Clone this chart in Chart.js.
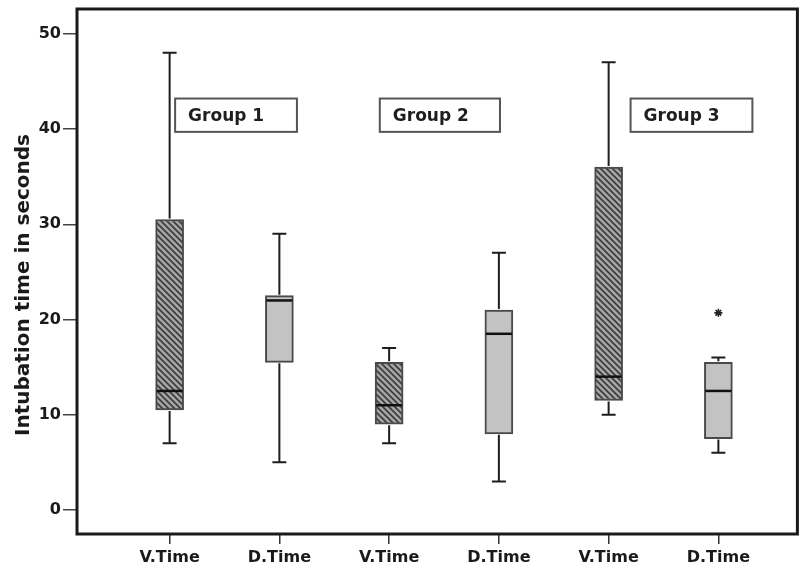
<!DOCTYPE html>
<html>
<head>
<meta charset="utf-8">
<script src="https://cdn.jsdelivr.net/npm/chart.js@4.4.1/dist/chart.umd.min.js"></script>
<style>
  html, body { margin: 0; padding: 0; background: #ffffff; }
  #wrap { width: 803px; height: 569px; }
</style>
</head>
<body>
<div id="wrap"><canvas id="c" width="803" height="569"></canvas></div>
<script>
// ---- data ----
const categories   = ['V.Time', 'D.Time', 'V.Time', 'D.Time', 'V.Time', 'D.Time'];
const whiskerLow   = [7, 5, 7, 3, 10, 6];
const quartile1    = [10.5, 15.5, 9, 8, 11.5, 7.5];
const medians      = [12.5, 22, 11, 18.5, 14, 12.5];
const quartile3    = [30.5, 22.5, 15.5, 21, 36, 15.5];
const whiskerHigh  = [48, 29, 17, 27, 47, 16];
const outlierIndex = [5];
const outlierValue = [20.7];
const yTickValues  = [0, 10, 20, 30, 40, 50];
const groupLabels  = ['Group 1', 'Group 2', 'Group 3'];
const yAxisTitle   = 'Intubation time in seconds';

// ---- styles / layout (not data) ----
const FONT = '"DejaVu Sans", Arial, sans-serif';
const groupBoxPos = [
  { x0: 0.05, x1: 1.16 },
  { x0: 1.915, x1: 3.01 },
  { x0: 4.20, x1: 5.31 }
];
const groupBoxY = { top: 43.2, bottom: 39.7 };

function makeHatch() {
  const s = 6;
  const c = document.createElement('canvas');
  c.width = s; c.height = s;
  const g = c.getContext('2d');
  g.fillStyle = '#a6a6a6';
  g.fillRect(0, 0, s, s);
  g.strokeStyle = '#3a3a3a';
  g.lineWidth = 1.6;
  g.beginPath();
  g.moveTo(-1, -1); g.lineTo(s + 1, s + 1);
  g.moveTo(-1, s - 1); g.lineTo(1, s + 1);
  g.moveTo(s - 1, -1); g.lineTo(s + 1, 1);
  g.stroke();
  return document.getElementById('c').getContext('2d').createPattern(c, 'repeat');
}
const hatch = makeHatch();
const boxFills = categories.map(c => c.startsWith('V') ? hatch : '#c3c3c3');

const boxData = categories.map((c, i) => ({ x: i, y: [quartile1[i], quartile3[i]] }));
const outlierData = outlierIndex.map((idx, k) => ({ x: idx, y: outlierValue[k] }));

const boxPlotPlugin = {
  id: 'boxExtras',
  afterDatasetsDraw(chart) {
    const ctx = chart.ctx;
    const xs = chart.scales.x, ys = chart.scales.y;
    const meta = chart.getDatasetMeta(0);
    ctx.save();
    ctx.strokeStyle = '#1e1e1e';
    categories.forEach((c, i) => {
      const x = xs.getPixelForValue(i);
      const bw = meta.data[i].width;
      const capHalf = bw / 4;
      const yLow = ys.getPixelForValue(whiskerLow[i]);
      const yQ1 = ys.getPixelForValue(quartile1[i]);
      const yQ3 = ys.getPixelForValue(quartile3[i]);
      const yHigh = ys.getPixelForValue(whiskerHigh[i]);
      const yMed = ys.getPixelForValue(medians[i]);
      ctx.lineWidth = 2;
      ctx.beginPath();
      ctx.moveTo(x, yQ3 - 1); ctx.lineTo(x, yHigh);
      ctx.moveTo(x, yQ1 + 1); ctx.lineTo(x, yLow);
      ctx.moveTo(x - capHalf, yHigh); ctx.lineTo(x + capHalf, yHigh);
      ctx.moveTo(x - capHalf, yLow); ctx.lineTo(x + capHalf, yLow);
      ctx.stroke();
      ctx.lineWidth = 2.5;
      ctx.strokeStyle = '#111';
      ctx.beginPath();
      ctx.moveTo(x - bw / 2 + 1, yMed); ctx.lineTo(x + bw / 2 - 1, yMed);
      ctx.stroke();
      ctx.strokeStyle = '#1e1e1e';
    });
    ctx.restore();
  },
  afterDraw(chart) {
    const ctx = chart.ctx;
    const a = chart.chartArea;
    const xs = chart.scales.x, ys = chart.scales.y;
    ctx.save();
    // frame
    ctx.strokeStyle = '#1a1a1a';
    ctx.lineWidth = 3;
    ctx.strokeRect(a.left, a.top, a.right - a.left, a.bottom - a.top);
    // group labels
    groupLabels.forEach((t, k) => {
      const p = groupBoxPos[k];
      const x0 = xs.getPixelForValue(p.x0), x1 = xs.getPixelForValue(p.x1);
      const y0 = ys.getPixelForValue(groupBoxY.top), y1 = ys.getPixelForValue(groupBoxY.bottom);
      ctx.fillStyle = '#ffffff';
      ctx.fillRect(x0, y0, x1 - x0, y1 - y0);
      ctx.strokeStyle = '#555';
      ctx.lineWidth = 2;
      ctx.strokeRect(x0, y0, x1 - x0, y1 - y0);
      ctx.fillStyle = '#1e1e1e';
      ctx.font = 'bold 17px ' + FONT;
      ctx.textAlign = 'left';
      ctx.textBaseline = 'middle';
      ctx.fillText(t, x0 + 13, (y0 + y1) / 2 + 1);
    });
    // y axis title
    ctx.translate(24, 285);
    ctx.rotate(-Math.PI / 2);
    ctx.fillStyle = '#1a1a1a';
    ctx.font = 'bold 20px ' + FONT;
    ctx.textAlign = 'center';
    ctx.textBaseline = 'middle';
    ctx.fillText(yAxisTitle, 0, 0);
    ctx.restore();
  }
};

new Chart(document.getElementById('c'), {
  type: 'bar',
  data: {
    datasets: [
      {
        type: 'bar',
        data: boxData,
        backgroundColor: boxFills,
        borderColor: '#4a4a4a',
        borderWidth: 2,
        borderSkipped: false,
        barThickness: 28,
        grouped: false,
        order: 2
      },
      {
        type: 'scatter',
        data: outlierData,
        pointStyle: 'star',
        radius: 4,
        borderWidth: 1.6,
        borderColor: '#222',
        backgroundColor: '#222',
        order: 1
      }
    ]
  },
  plugins: [boxPlotPlugin],
  options: {
    responsive: false,
    animation: false,
    devicePixelRatio: 1,
    layout: { padding: { top: 9, right: 0, left: 0, bottom: 0 } },
    plugins: { legend: { display: false }, tooltip: { enabled: false }, title: { display: false } },
    scales: {
      x: {
        type: 'linear',
        min: -0.844,
        max: 5.72,
        offset: false,
        afterBuildTicks(scale) { scale.ticks = categories.map((c, i) => ({ value: i })); },
        afterFit(scale) { scale.height = 35; scale.paddingLeft = 0; scale.paddingRight = 0; },
        grid: { offset: false, drawOnChartArea: false, drawTicks: true, tickLength: 10, color: '#333', lineWidth: 1.5 },
        border: { display: false },
        ticks: {
          autoSkip: false,
          maxRotation: 0,
          padding: 4,
          color: '#1a1a1a',
          font: { family: FONT, size: 16, weight: 'bold' },
          callback: (v) => categories[Math.round(v)] ?? ''
        }
      },
      y: {
        type: 'linear',
        min: -2.52,
        max: 52.6,
        afterBuildTicks(scale) { scale.ticks = yTickValues.map(v => ({ value: v })); },
        afterFit(scale) { scale.width = 77; scale.paddingTop = 0; scale.paddingBottom = 0; },
        grid: { drawOnChartArea: false, drawTicks: true, tickLength: 14, color: '#444', lineWidth: 1.5 },
        border: { display: false },
        ticks: {
          padding: 2,
          color: '#1a1a1a',
          font: { family: FONT, size: 16, weight: 'bold' },
          callback: (v) => String(v)
        }
      }
    }
  }
});
</script>
</body>
</html>
